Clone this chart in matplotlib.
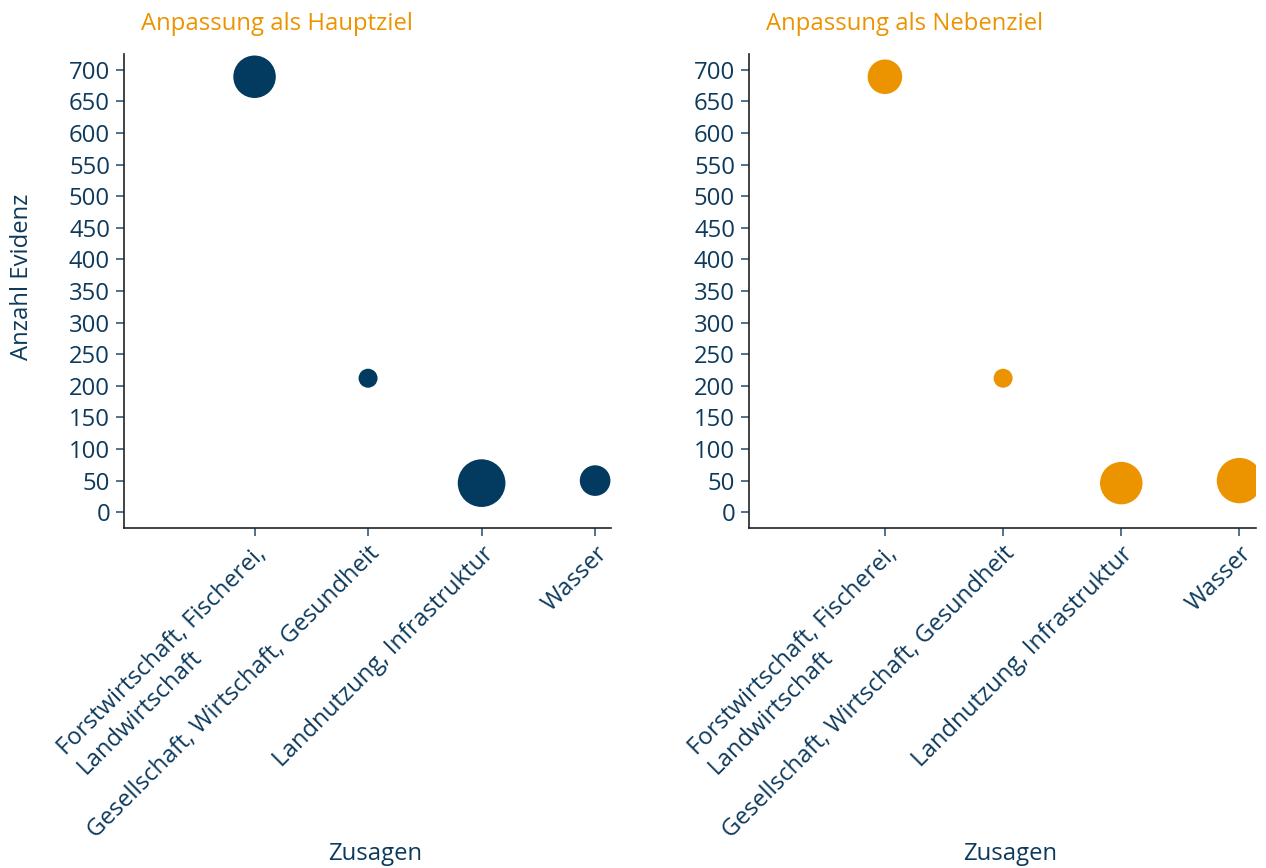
import matplotlib
matplotlib.use("Agg")
import matplotlib.pyplot as plt

# ---- data ----
kategorien = ["Forstwirtschaft, Fischerei,\nLandwirtschaft",
              "Gesellschaft, Wirtschaft, Gesundheit",
              "Landnutzung, Infrastruktur",
              "Wasser"]
evidenz_haupt = [689, 212, 46, 50]
evidenz_neben = [689, 212, 46, 50]
groesse_haupt = [50, 10, 63, 26]
groesse_neben = [33, 10, 50, 57]
titel = ["Anpassung als Hauptziel", "Anpassung als Nebenziel"]
yticks = list(range(0, 701, 50))

NAVY = "#033a5f"
ORANGE = "#ec9400"
TXT = "#0d3a5c"
TICK = "#2f5a7d"

plt.rcParams['font.family'] = ['Open Sans', 'DejaVu Sans']
FS = 17.2

W, H = 1266, 868
fig = plt.figure(figsize=(W / 100, H / 100), dpi=100)

def px_axes(l, r, t, b):
    return fig.add_axes([l / W, (H - b) / H, (r - l) / W, (b - t) / H])

axes = [px_axes(124, 611, 54, 528), px_axes(749, 1256, 54, 528)]
data = [(evidenz_haupt, groesse_haupt, NAVY), (evidenz_neben, groesse_neben, ORANGE)]
SCALE = 18.7

for i, (ax, (ev, gr, col)) in enumerate(zip(axes, data)):
    x = list(range(len(kategorien)))
    ax.scatter(x, ev, s=[g * SCALE for g in gr], color=col, edgecolors='none', zorder=3)
    ax.set_xlim(-1.15, 3.14)
    ax.set_ylim(-25, 725)
    ax.set_yticks(yticks)
    ax.set_yticklabels([str(v) for v in yticks], fontsize=FS, color=TXT)
    ax.set_xticks(x)
    ax.set_xticklabels(kategorien, rotation=45, ha='right', va='top',
                       rotation_mode='anchor', multialignment='left',
                       fontsize=FS, color=TXT)
    for s in ['top', 'right']:
        ax.spines[s].set_visible(False)
    for s in ['left', 'bottom']:
        ax.spines[s].set_color('#222222')
        ax.spines[s].set_linewidth(1.2)
    ax.tick_params(axis='both', length=6, width=1.2, color=TICK, pad=4)
    ax.set_xlabel("Zusagen", fontsize=FS, color=TXT)
    ax.xaxis.set_label_coords(0.515, -0.663)
    if i == 0:
        ax.set_ylabel("Anzahl Evidenz", fontsize=FS, color=TXT)
        ax.yaxis.set_label_coords(-0.185, 0.53)
    ax.text(17 / (611 - 124) if i == 0 else 17 / (1256 - 749), 1.05, titel[i],
            transform=ax.transAxes, ha='left', va='baseline',
            fontsize=FS, color=ORANGE)

fig.savefig("out.png", dpi=100)
